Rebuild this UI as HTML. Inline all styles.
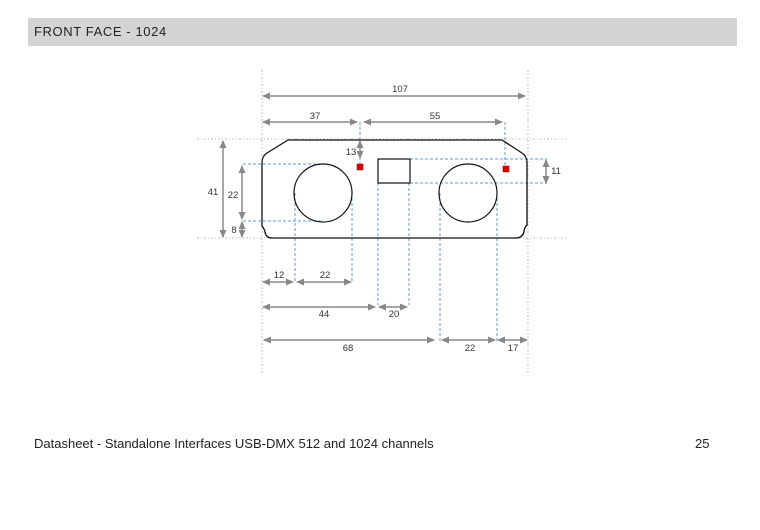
<!DOCTYPE html>
<html><head><style>
body{margin:0;width:760px;height:530px;background:#fff;position:relative;font-family:"Liberation Sans",sans-serif;overflow:hidden}
.bar{position:absolute;left:28px;top:18px;width:709px;height:28px;background:#d4d4d4}
.bar span{position:absolute;left:6px;top:6px;font-size:13px;letter-spacing:0.6px;color:#222}
.foot{position:absolute;top:436px;font-size:13px;color:#222}
</style></head><body>
<div class="bar"><span>FRONT FACE - 1024</span></div>
<div class="foot" style="left:34px">Datasheet - Standalone Interfaces USB-DMX 512 and 1024 channels</div>
<div class="foot" style="left:695px">25</div>
<svg width="760" height="530" style="position:absolute;left:0;top:0" font-family="Liberation Sans" font-size="9.5" fill="#333">
<defs>
<marker id="a" markerWidth="8" markerHeight="8" refX="7" refY="4" orient="auto-start-reverse" markerUnits="userSpaceOnUse"><path d="M0,0.5 L8,4 L0,7.5z" fill="#888"/></marker>
</defs>
<g stroke="#aaa" stroke-width="0.8" stroke-dasharray="2,2,1,2" fill="none">
<line x1="262" y1="70" x2="262" y2="375"/><line x1="528" y1="70" x2="528" y2="375"/>
<line x1="197" y1="139" x2="567" y2="139"/><line x1="197" y1="238" x2="567" y2="238"/>
</g>
<g stroke="#5b9bd5" stroke-width="1" stroke-dasharray="3,2" fill="none">
<line x1="360" y1="122" x2="360" y2="165"/><line x1="505" y1="122" x2="505" y2="166"/>
<line x1="243" y1="164" x2="323" y2="164"/><line x1="243" y1="221" x2="323" y2="221"/>
<line x1="410" y1="159" x2="547" y2="159"/><line x1="410" y1="183" x2="547" y2="183"/>
<line x1="295" y1="193" x2="295" y2="282"/><line x1="352" y1="193" x2="352" y2="282"/>
<line x1="378" y1="183" x2="378" y2="305"/><line x1="409" y1="183" x2="409" y2="305"/>
<line x1="440" y1="193" x2="440" y2="342"/><line x1="497" y1="193" x2="497" y2="342"/>
</g>
<path d="M288,140 L502,140 L522,153 Q527,156 527,163 L527,225 Q524,228 524,232 Q522,238 516,238 L272,238 Q266,238 265,232 Q264,228 262,226 L262,163 Q262,156 267,153 Z" fill="none" stroke="#111" stroke-width="1.3"/>
<circle cx="323" cy="193" r="29" fill="none" stroke="#111" stroke-width="1.2"/>
<circle cx="468" cy="193" r="29" fill="none" stroke="#111" stroke-width="1.2"/>
<rect x="378" y="159" width="32" height="24" fill="none" stroke="#111" stroke-width="1.2"/>
<rect x="357" y="164" width="6" height="6" fill="#d00" stroke="#800" stroke-width="0.5"/>
<rect x="503" y="166" width="6" height="6" fill="#d00" stroke="#800" stroke-width="0.5"/>
<g stroke="#888" stroke-width="1.5" marker-start="url(#a)" marker-end="url(#a)">
<line x1="263" y1="96" x2="525" y2="96"/>
<line x1="263" y1="122" x2="357" y2="122"/><line x1="364" y1="122" x2="502" y2="122"/>
<line x1="360" y1="141" x2="360" y2="158"/>
<line x1="223" y1="141" x2="223" y2="237"/>
<line x1="242" y1="166" x2="242" y2="219"/><line x1="242" y1="222" x2="242" y2="237"/>
<line x1="546" y1="160" x2="546" y2="183"/>
<line x1="263" y1="282" x2="293" y2="282"/><line x1="297" y1="282" x2="351" y2="282"/>
<line x1="263" y1="307" x2="375" y2="307"/><line x1="379" y1="307" x2="407" y2="307"/>
<line x1="264" y1="340" x2="434" y2="340"/><line x1="442" y1="340" x2="495" y2="340"/><line x1="498" y1="340" x2="527" y2="340"/>
</g>
<g text-anchor="middle">
<text x="400" y="92">107</text><text x="315" y="119">37</text><text x="435" y="119">55</text>
<text x="351" y="155">13</text><text x="213" y="195">41</text><text x="233" y="198">22</text><text x="234" y="233">8</text>
<text x="556" y="174">11</text>
<text x="279" y="278">12</text><text x="325" y="278">22</text>
<text x="324" y="317">44</text><text x="394" y="317">20</text>
<text x="348" y="351">68</text><text x="470" y="351">22</text><text x="513" y="351">17</text>
</g>
</svg>
</body></html>
